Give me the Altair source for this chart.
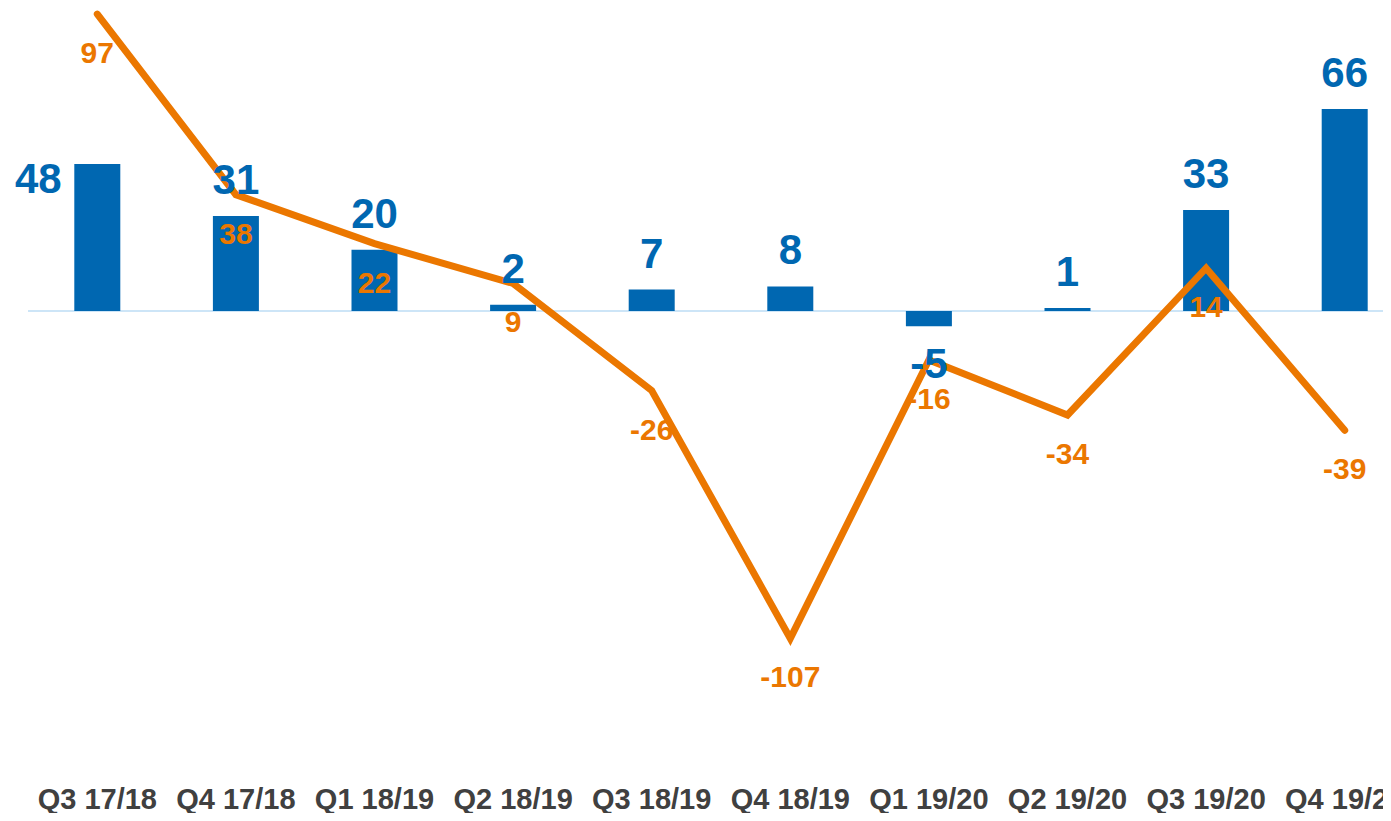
import altair as alt
import pandas as pd

quarters = ["Q3 17/18", "Q4 17/18", "Q1 18/19", "Q2 18/19", "Q3 18/19",
            "Q4 18/19", "Q1 19/20", "Q2 19/20", "Q3 19/20", "Q4 19/20"]
bar_values = [48, 31, 20, 2, 7, 8, -5, 1, 33, 66]
line_values = [97, 38, 22, 9, -26, -107, -16, -34, 14, -39]

df = pd.DataFrame({"q": quarters, "bar": bar_values, "line": line_values})

BLUE = "#0067B1"
ORANGE = "#EB7700"
FONT = "Liberation Sans"

x = alt.X("q:N", sort=quarters, title=None,
          scale=alt.Scale(paddingInner=0, paddingOuter=0, range=[0, 1386]),
          axis=alt.Axis(labelAngle=0, domain=False, ticks=False, labelPadding=15,
                        labelFont=FONT, labelFontSize=29, labelFontWeight="bold",
                        labelColor="#404040", grid=False))
yscale = alt.Scale(domain=[-150, 99], nice=False, zero=False)
y_bar = alt.Y("bar:Q", scale=yscale, axis=None, title=None)
y_line = alt.Y("line:Q", scale=yscale, axis=None, title=None)

base = alt.Chart(df).transform_calculate(
    zero="0", bar_lbl="'' + datum.bar", line_lbl="'' + datum.line")

zero_rule = alt.Chart(pd.DataFrame({"zero": [0]})).mark_rule(
    color="#CDE5F7", strokeWidth=2).encode(
    y=alt.Y("zero:Q", scale=yscale, axis=None, title=None),
    x=alt.value(0), x2=alt.value(1400))

bars = base.mark_bar(size=46, color=BLUE).encode(x=x, y=y_bar, y2="zero:Q")

line = base.mark_line(color=ORANGE, strokeWidth=7, strokeCap="round",
                      strokeJoin="miter").encode(x=x, y=y_line)

txt_common = dict(font=FONT, fontWeight="bold", baseline="middle", align="center")

blue_pos = base.transform_filter(
    (alt.datum.bar >= 0) & (alt.datum.q != quarters[0])
).mark_text(color=BLUE, fontSize=42, dy=-35, **txt_common).encode(
    x=x, y=y_bar, text="bar_lbl:N")
blue_first = base.transform_filter(alt.datum.q == quarters[0]).mark_text(
    color=BLUE, fontSize=42, dy=16, dx=-59, **txt_common).encode(
    x=x, y=y_bar, text="bar_lbl:N")
blue_neg = base.transform_filter(alt.datum.bar < 0).mark_text(
    color=BLUE, fontSize=42, dy=39, **txt_common).encode(
    x=x, y=y_bar, text="bar_lbl:N")

orange_txt = base.mark_text(color=ORANGE, fontSize=30, dy=40, **txt_common).encode(
    x=x, y=y_line, text="line_lbl:N")

chart = alt.layer(zero_rule, bars, line, blue_pos, blue_first, blue_neg, orange_txt).properties(
    width=1355, height=762, background="white",
    autosize=alt.AutoSizeParams(type="none"),
    padding={"left": 20, "top": 0, "right": 0, "bottom": 43},
).configure_view(stroke=None)

chart.save("out.html", embed_options={"renderer": "svg", "actions": False})
